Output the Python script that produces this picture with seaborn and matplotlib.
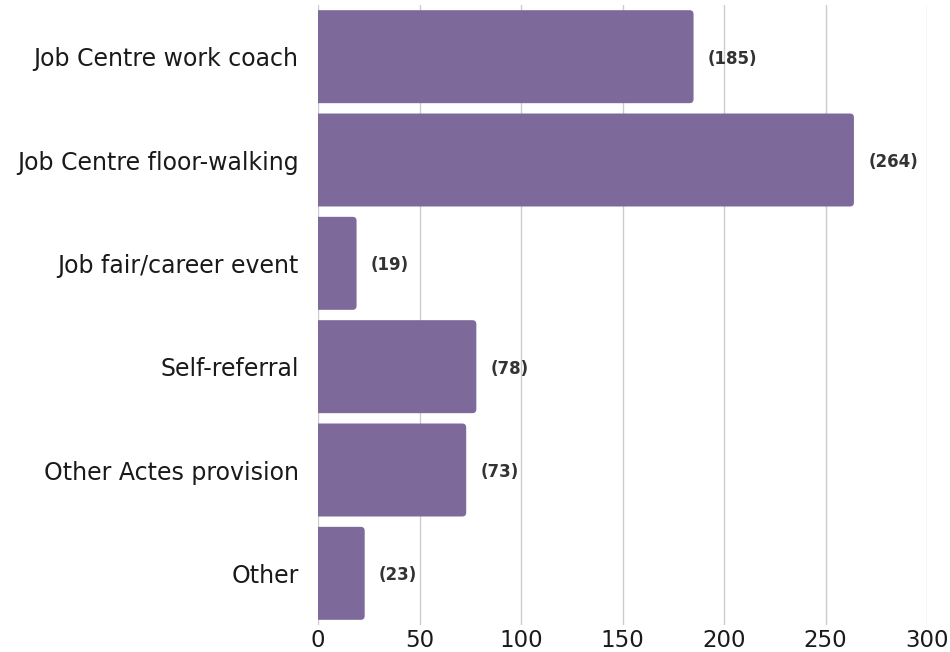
import matplotlib
matplotlib.use("Agg")
import matplotlib.pyplot as plt
from matplotlib.patches import FancyBboxPatch
import seaborn as sns
import pandas as pd

categories = ["Job Centre work coach", "Job Centre floor-walking", "Job fair/career event",
              "Self-referral", "Other Actes provision", "Other"]
values = [185, 264, 19, 78, 73, 23]
xticks = [0, 50, 100, 150, 200, 250, 300]

sns.set_theme(style="white")
plt.rcParams['font.family'] = ['DejaVu Sans']

df = pd.DataFrame({"source": categories, "count": values})

fig = plt.figure(figsize=(9.5, 6.52), dpi=100)
ax = fig.add_axes([318/950, 1-625/652, (927-318)/950, (625-5)/652])

sns.barplot(data=df, y="source", x="count", orient="h", color="#7E6A9A",
            saturation=1, width=0.9, ax=ax, zorder=3)

ax.set_xlim(0, 300)
ax.set_ylim(5.5, -0.5)

# round the right-hand corners of the bars
px_x = (927-318)/300.0
px_y = (625-5)/6.0
for p in list(ax.patches):
    x, y = p.get_x(), p.get_y()
    w, h = p.get_width(), p.get_height()
    r = 4.0 / px_x
    fb = FancyBboxPatch((x - 10, y), w + 10, h,
                        boxstyle=f"round,pad=0,rounding_size={r}",
                        mutation_aspect=px_x/px_y,
                        facecolor=p.get_facecolor(), edgecolor="none",
                        zorder=3, clip_on=True)
    p.set_visible(False)
    ax.add_patch(fb)

ax.set_xticks(xticks)
ax.set_xticklabels([str(t) for t in xticks])
ax.xaxis.grid(True, color="#cccccc", linewidth=1, zorder=0)
ax.set_axisbelow(True)
for s in ax.spines.values():
    s.set_visible(False)
ax.set_xlabel("")
ax.set_ylabel("")
ax.tick_params(axis="y", labelsize=17, labelcolor="#1a1a1a", length=0, pad=14)
ax.tick_params(axis="x", labelsize=16.5, labelcolor="#1a1a1a", length=0, pad=3)

for i, v in enumerate(values):
    ax.text(v + 7, i, f"({v})", va="center_baseline", ha="left", fontsize=12,
            color="#333333", fontweight="bold")

fig.savefig("out.png", dpi=100)
